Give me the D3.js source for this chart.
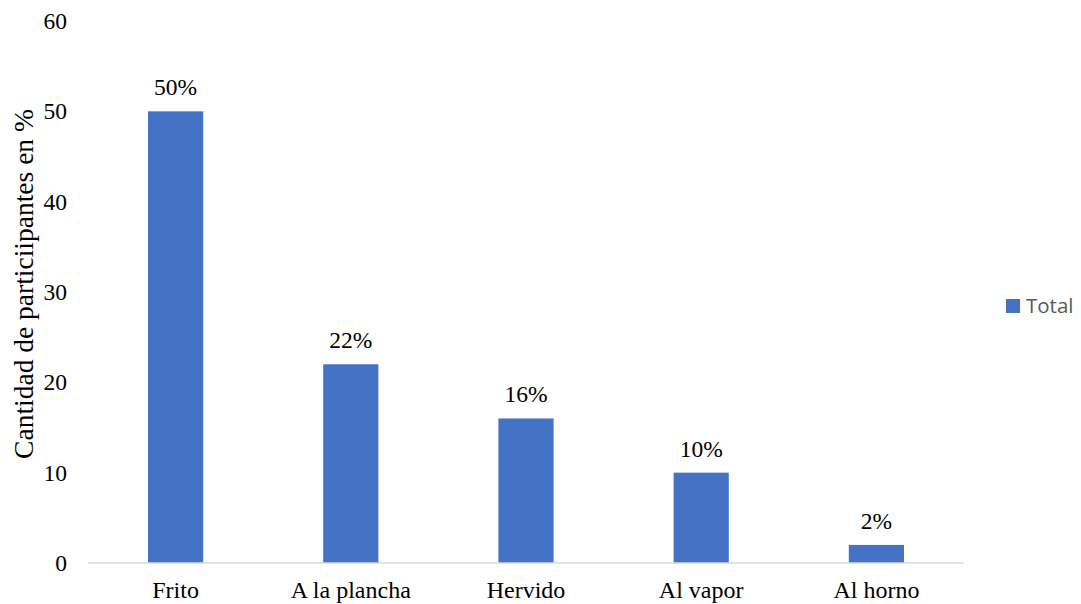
<!DOCTYPE html>
<html><head><meta charset="utf-8">
<script src="https://cdn.jsdelivr.net/npm/d3@7"></script>
<style>body{margin:0;background:#fff;}svg{display:block;}</style>
</head><body>
<svg id="c" width="1081" height="604"></svg>
<script>
const categories = ["Frito", "A la plancha", "Hervido", "Al vapor", "Al horno"];
const values = [50, 22, 16, 10, 2];
const valueLabels = ["50%", "22%", "16%", "10%", "2%"];
const yTicks = [0, 10, 20, 30, 40, 50, 60];
const seriesName = "Total";
const yTitle = "Cantidad de particiipantes en %";

const svg = d3.select("#c");
const m = {l: 88, r: 117, t: 21, b: 41};
const W = 1081, H = 604;
const x = d3.scaleBand().domain(categories).range([m.l, W - m.r]).paddingInner(0.685).paddingOuter(0.3425);
const y = d3.scaleLinear().domain([0, 60]).range([H - m.b, m.t]);
const serif = "'Liberation Serif','Times New Roman',serif";
const fs = 23.5;

svg.selectAll("rect.bar").data(values).join("rect").attr("class","bar")
  .attr("x", (d,i) => x(categories[i])).attr("width", x.bandwidth())
  .attr("y", d => y(d)).attr("height", d => y(0) - y(d)).attr("fill", "#4472C4");

svg.append("line").attr("x1", m.l).attr("x2", W - m.r).attr("y1", y(0)).attr("y2", y(0))
  .attr("stroke", "#d9d9d9").attr("stroke-width", 1.3);

const yAxis = svg.append("g").attr("transform", `translate(${m.l},0)`)
  .call(d3.axisLeft(y).tickValues(yTicks).tickSize(0).tickPadding(21));
yAxis.select(".domain").remove();
yAxis.selectAll("text").attr("font-family", serif).attr("font-size", fs).attr("fill", "#000");

const xAxis = svg.append("g").attr("transform", `translate(0,${y(0)})`)
  .call(d3.axisBottom(x).tickSize(0));
xAxis.select(".domain").remove();
xAxis.selectAll("text").attr("font-family", serif).attr("font-size", 24).attr("fill", "#000")
  .attr("y", 35).attr("dy", 0);

svg.selectAll("text.vl").data(values).join("text").attr("class","vl")
  .attr("x", (d,i) => x(categories[i]) + x.bandwidth()/2).attr("y", d => y(d) - 16)
  .attr("text-anchor","middle").attr("font-family", serif).attr("font-size", fs).attr("fill","#000")
  .text((d,i) => valueLabels[i]);

svg.append("text").attr("transform", "translate(33,284) rotate(-90)")
  .attr("text-anchor","middle").attr("font-family", serif).attr("font-size", 27.5).attr("fill","#000")
  .text(yTitle);

const lg = svg.append("g").attr("transform", "translate(1006,299)");
lg.append("rect").attr("width", 14).attr("height", 14).attr("fill", "#4472C4");
lg.append("text").attr("x", 20).attr("y", 14).attr("font-family", "'Open Sans','Liberation Sans',sans-serif")
  .attr("font-size", 20.5).attr("fill", "#595959").text(seriesName);
</script>
</body></html>
